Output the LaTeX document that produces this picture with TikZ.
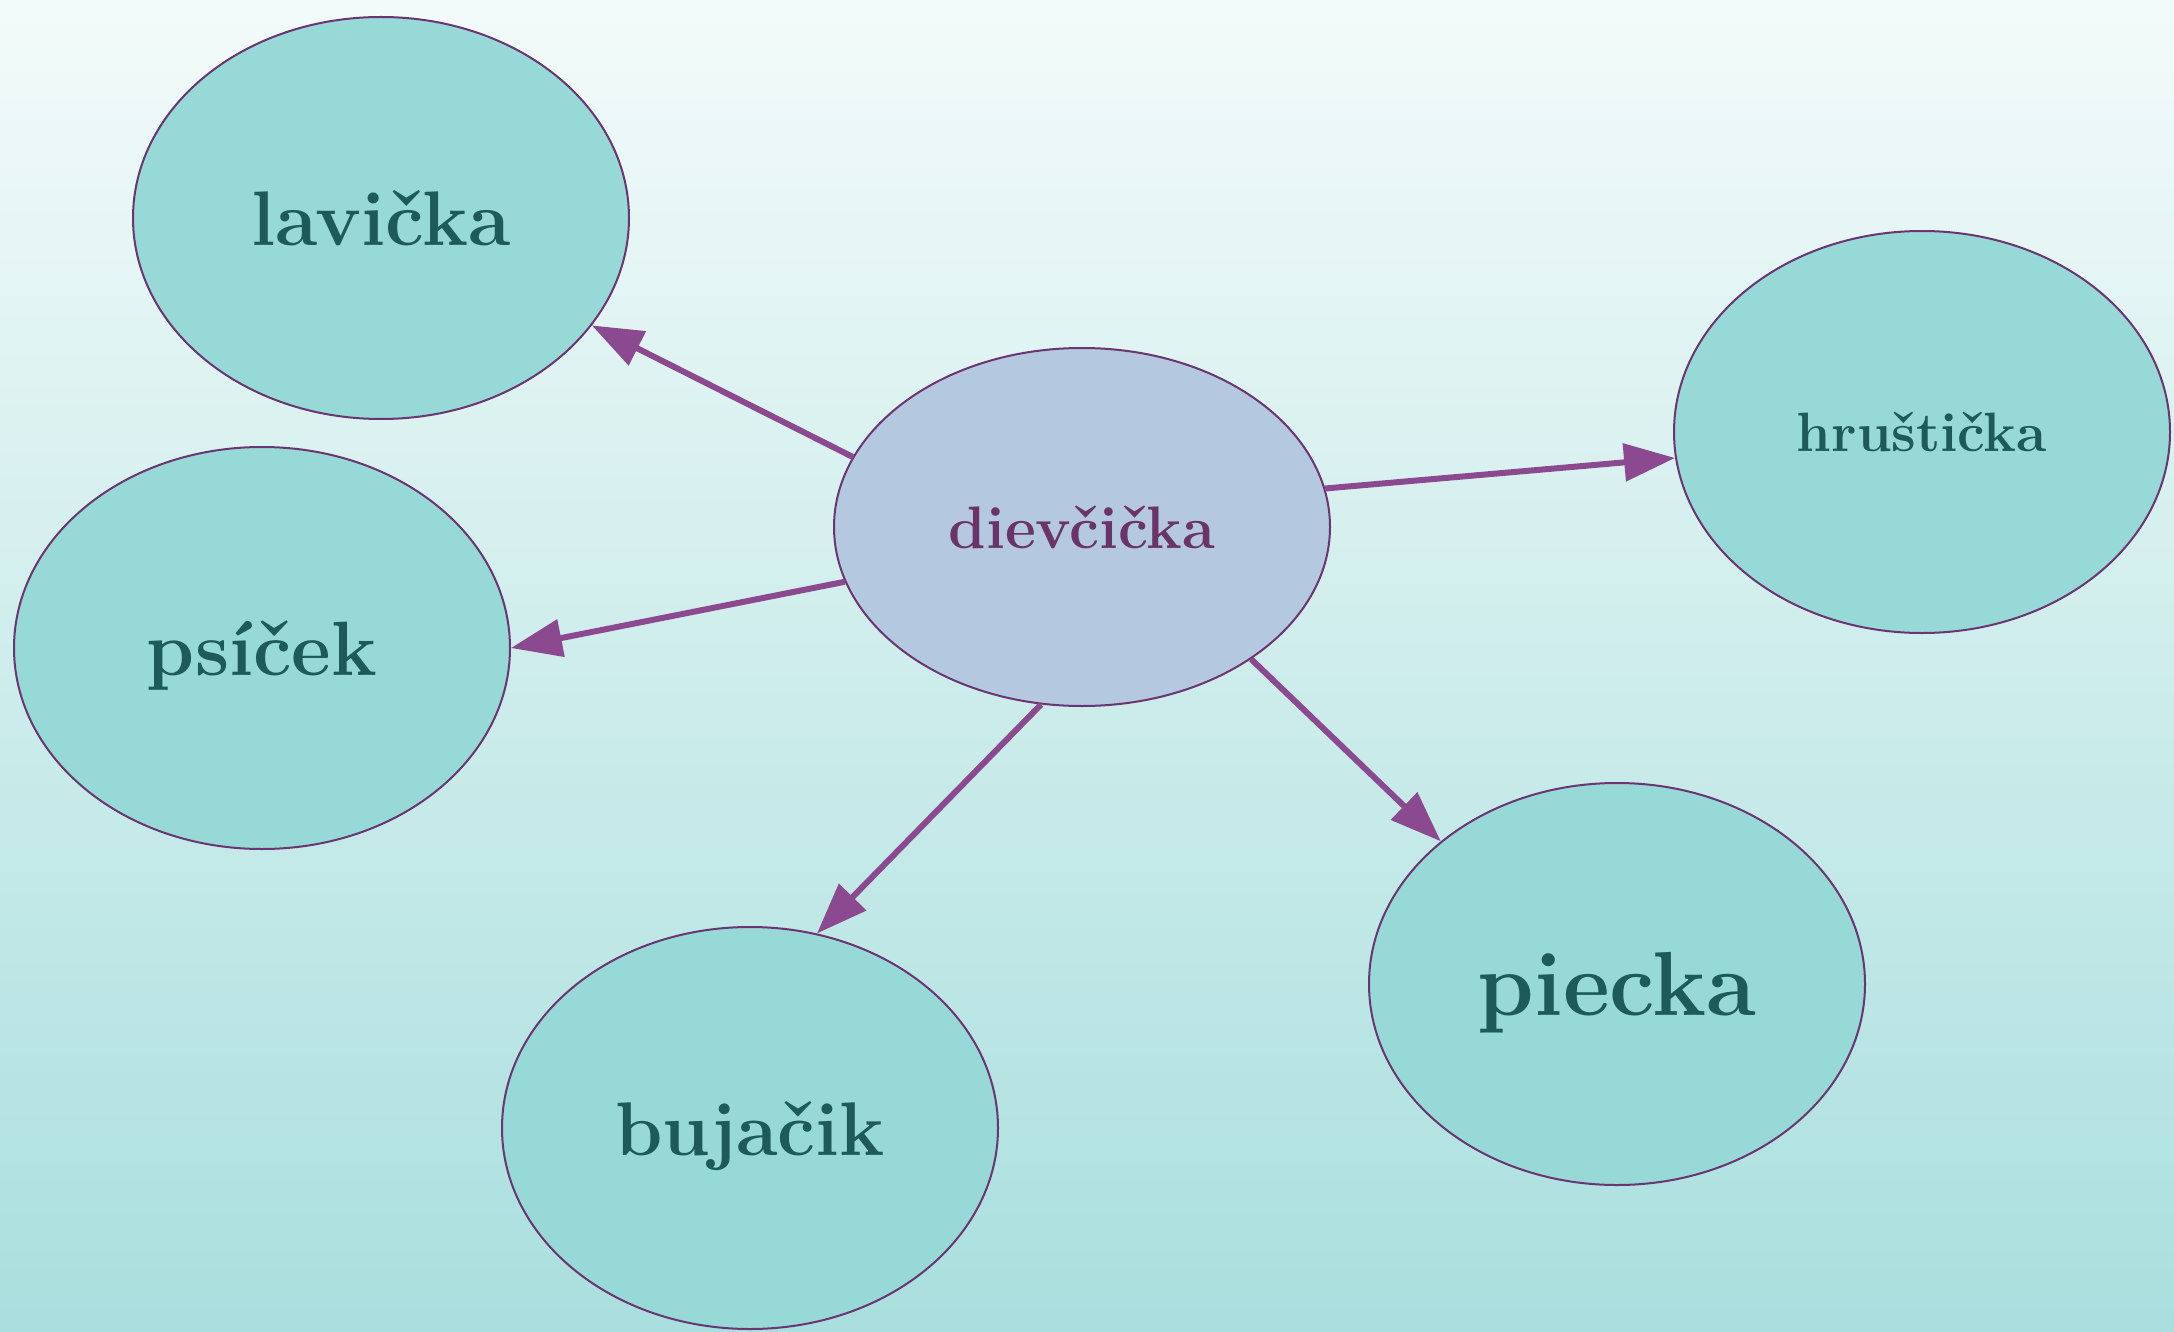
\documentclass[tikz,border=0pt]{standalone}
\usepackage{fontspec}
\usetikzlibrary{arrows.meta,shapes.geometric}
\definecolor{bgtop}{HTML}{F3FBFA}
\definecolor{bgbot}{HTML}{A9DFDE}
\definecolor{leaf}{HTML}{96D9D7}
\definecolor{hub}{HTML}{B4C8E0}
\definecolor{rim}{HTML}{6A3570}
\definecolor{wire}{HTML}{8B4A8F}
\definecolor{leaftext}{HTML}{1F5A5B}
\definecolor{hubtext}{HTML}{6A3468}
\begin{document}
\begin{tikzpicture}[x=0.5pt,y=-0.5pt,
  leafnode/.style={ellipse, draw=rim, line width=1pt, fill=leaf, text=leaftext,
    minimum width=248pt, minimum height=201pt, inner sep=0pt, text depth=0pt},
  hubnode/.style={leafnode, fill=hub, text=hubtext, minimum height=179pt},
  link/.style={draw=wire, line width=3pt, -{Triangle[length=25.5pt,width=18.5pt]}}]
\shade[top color=bgtop, bottom color=bgbot] (0,0) rectangle (2174,1332);
\useasboundingbox (0,0) rectangle (2174,1332);
\node[hubnode, font=\bfseries\fontsize{30}{36}\selectfont] (d) at (1082,527) {dievčička};
\node[leafnode, font=\bfseries\fontsize{38.7}{46}\selectfont] (l) at (381,218) {lavička};
\node[leafnode, font=\bfseries\fontsize{38.5}{46}\selectfont] (p) at (262,648) {psíček};
\node[leafnode, font=\bfseries\fontsize{27.7}{34}\selectfont] (h) at (1922,432) {hruštička};
\node[leafnode, font=\bfseries\fontsize{45.5}{54}\selectfont] (c) at (1617,984) {piecka};
\node[leafnode, font=\bfseries\fontsize{38}{46}\selectfont] (b) at (750,1128) {bujačik};
\draw[link] (d.163.1) -- (l.333.2);
\draw[link] (d.193.4) -- (p.0.2);
\draw[link] (d.9.5) -- (h.186.3);
\draw[link] (d.322.5) -- (c.141.7);
\draw[link] (d.257.1) -- (b.71.5);
\end{tikzpicture}
\end{document}
